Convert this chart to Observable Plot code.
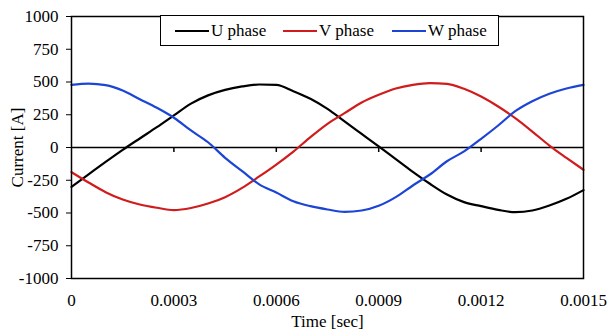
<!DOCTYPE html>
<html>
<head>
<meta charset="utf-8">
<script src="https://cdn.jsdelivr.net/npm/d3@7"></script>
<script src="https://cdn.jsdelivr.net/npm/@observablehq/plot@0.6"></script>
<style>
  html, body { margin: 0; padding: 0; background: #fff; }
  #wrap { position: relative; width: 610px; height: 333px; font-family: "Liberation Serif", "Times New Roman", Times, "DejaVu Serif", serif; }
  #chart svg, #chart svg text { font-family: "Liberation Serif", "Times New Roman", Times, "DejaVu Serif", serif !important; }
  #legend { position: absolute; left: 160px; top: 15px; width: 339px; height: 31px; border: 1.5px solid #000; background: #fff; box-sizing: border-box; font-size: 17px; }
  .item { position: absolute; top: 0; height: 29px; line-height: 29px; white-space: nowrap; }
  .sw { display: inline-block; width: 34px; height: 0; border-top: 2px solid; vertical-align: middle; margin-right: 2px; position: relative; top: -1px; }
</style>
</head>
<body>
<div id="wrap"><div id="chart"></div><div id="legend"></div></div>
<script>
const time = [0, 0.00005, 0.0001, 0.00015, 0.0002, 0.00025, 0.0003, 0.00035, 0.0004, 0.00045,
  0.0005, 0.00055, 0.0006, 0.00065, 0.0007, 0.00075, 0.0008, 0.00085, 0.0009, 0.00095,
  0.001, 0.00105, 0.0011, 0.00115, 0.0012, 0.00125, 0.0013, 0.00135, 0.0014, 0.00145, 0.0015];
const uPhase = [-300,-205,-110,-18,69,155,245,335,398,440,466,481,478,430,372,295,200,104,8,-89,-186,-277,-359,-417,-448,-476,-494,-481,-443,-392,-325];
const vPhase = [-188,-267,-341,-397,-435,-460,-478,-462,-428,-379,-308,-221,-130,-31,79,181,262,343,402,450,478,491,486,448,389,313,224,122,15,-79,-170];
const wPhase = [478,488,476,435,369,303,227,130,40,-79,-181,-282,-344,-410,-448,-473,-491,-481,-445,-379,-290,-206,-105,-30,66,168,277,353,410,450,478];
const seriesNames = ["U phase", "V phase", "W phase"];
const seriesColors = ["#000000", "#d01c1c", "#1c45d6"];
const xTicks = [0, 0.0003, 0.0006, 0.0009, 0.0012, 0.0015];
const yTicks = [-1000, -750, -500, -250, 0, 250, 500, 750, 1000];

const seriesValues = [uPhase, vPhase, wPhase];
const data = [];
seriesNames.forEach((name, s) => time.forEach((t, i) => data.push({t, v: seriesValues[s][i], name})));

const serif = "'Liberation Serif', 'Times New Roman', Times, 'DejaVu Serif', serif";
const chart = Plot.plot({
  width: 610, height: 333,
  marginLeft: 71, marginRight: 27, marginTop: 16, marginBottom: 55,
  style: { fontFamily: serif, fontSize: "17px", color: "#000", background: "#fff" },
  x: { domain: [0, 0.0015] },
  y: { domain: [-1000, 1000] },
  color: { domain: seriesNames, range: seriesColors },
  marks: [
    Plot.ruleY([0], { stroke: "#000", strokeWidth: 1.5 }),
    Plot.ruleX(xTicks.slice(1, -1), { x: d => d, y1: 0, y2: 0, insetBottom: -5, stroke: "#000", strokeWidth: 1.5 }),
    Plot.line(data, { x: "t", y: "v", z: "name", stroke: "name", strokeWidth: 2.2, curve: "monotone-x" }),
    Plot.axisY({ ticks: yTicks, tickSize: 5, tickPadding: 8, tickFormat: d => String(d),
      label: "Current [A]", labelAnchor: "center", labelArrow: "none", labelOffset: 61, fontSize: 17 }),
    Plot.axisX({ ticks: xTicks, tickSize: 0, tickPadding: 15, tickFormat: d => d === 0 ? "0" : d.toFixed(4),
      label: "Time [sec]", labelAnchor: "center", labelArrow: "none", labelOffset: 48, fontSize: 17 }),
    Plot.frame({ stroke: "#000", strokeWidth: 1.5 })
  ]
});
document.getElementById("chart").appendChild(chart);

const legend = document.getElementById("legend");
const lefts = [14, 122, 231];
seriesNames.forEach((name, i) => {
  const item = document.createElement("div");
  item.className = "item";
  item.style.left = lefts[i] + "px";
  item.innerHTML = `<span class="sw" style="border-color:${seriesColors[i]}"></span>${name}`;
  legend.appendChild(item);
});
</script>
</body>
</html>
